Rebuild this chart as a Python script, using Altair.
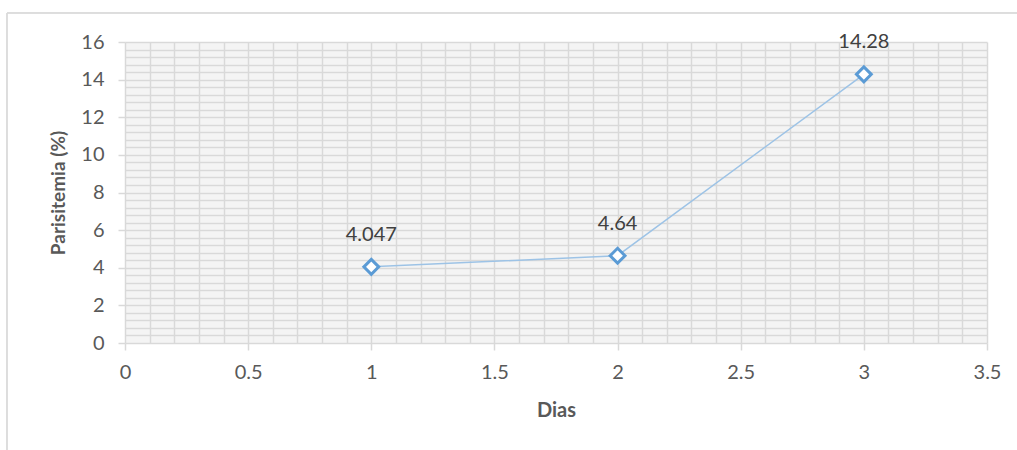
import altair as alt
import pandas as pd

# Parasitemia measured on each day
dias = [1, 2, 3]
parasitemia = [4.047, 4.64, 14.28]
etiquetas = ["4.047", "4.64", "14.28"]

# Axis tick positions: minor grid every 0.1 (x) and 0.4 (y), labels on the majors
x_ticks = [round(i * 0.1, 1) for i in range(36)]
y_ticks = [round(i * 0.4, 1) for i in range(41)]

df = pd.DataFrame({"Dias": dias, "Parasitemia": parasitemia, "label": etiquetas})

FONT = "Lato"
GRID = "#d9d9d9"

x_major = "abs(datum.value * 2 - round(datum.value * 2)) < 0.001"
y_major = "abs(datum.value / 2 - round(datum.value / 2)) < 0.001"

x_enc = alt.X(
    "Dias:Q",
    scale=alt.Scale(domain=[0, 3.5], nice=False, zero=False),
    axis=alt.Axis(
        title="Dias",
        values=x_ticks,
        tickCount=200,
        format="~g",
        labelExpr=f"{x_major} ? datum.label : ''",
        labelOverlap=False,
        labelFlush=False,
        grid=True,
        gridColor=GRID,
        gridWidth=1.5,
        domain=False,
        tickSize=7,
        tickColor=GRID,
        tickWidth=1.5,
        tickOpacity={"condition": {"test": x_major, "value": 1}, "value": 0},
        labelPadding=12,
        labelFontSize=20,
        labelColor="#595959",
        labelFont=FONT,
        titleFont=FONT,
        titleFontSize=20,
        titleFontWeight="bold",
        titleColor="#595959",
        titlePadding=18,
    ),
)

y_enc = alt.Y(
    "Parasitemia:Q",
    scale=alt.Scale(domain=[0, 16], nice=False),
    axis=alt.Axis(
        title="Parisitemia (%)",
        values=y_ticks,
        tickCount=200,
        format="~g",
        labelExpr=f"{y_major} ? datum.label : ''",
        labelOverlap=False,
        grid=True,
        gridColor=GRID,
        gridWidth=1.5,
        domain=False,
        tickSize=7,
        tickColor=GRID,
        tickWidth=1.5,
        tickOpacity={"condition": {"test": y_major, "value": 1}, "value": 0},
        labelPadding=14,
        labelFontSize=20,
        labelColor="#595959",
        labelFont=FONT,
        titleFont=FONT,
        titleFontSize=19,
        titleFontWeight="bold",
        titleColor="#595959",
        titlePadding=12,
    ),
)

base = alt.Chart(df)

# Outer chart frame
frame = base.mark_rect(fill="transparent", stroke="#d9d9d9", strokeWidth=1).encode(
    x=alt.value(-118), x2=alt.value(902), y=alt.value(-29), y2=alt.value(418)
)

line = base.mark_line(color="#9dc3e6", strokeWidth=1.5).encode(x=x_enc, y=y_enc)

points = base.mark_point(
    shape="diamond", filled=False, fill="white", fillOpacity=1,
    stroke="#5b9bd5", strokeWidth=3, size=220, opacity=1,
).encode(x="Dias:Q", y="Parasitemia:Q")

labels = base.mark_text(
    dy=-32, fontSize=20, font=FONT, color="#404040"
).encode(x="Dias:Q", y="Parasitemia:Q", text="label:N")

chart = (
    alt.layer(frame, line, points, labels)
    .properties(
        width=862,
        height=301,
        autosize=alt.AutoSizeParams(type="none"),
        padding={"left": 125, "top": 42, "right": 30, "bottom": 107},
        background="white",
    )
    .configure_view(fill="#f4f4f4", strokeWidth=0)
)

chart.save("out.html", embed_options={"renderer": "svg", "actions": False})
